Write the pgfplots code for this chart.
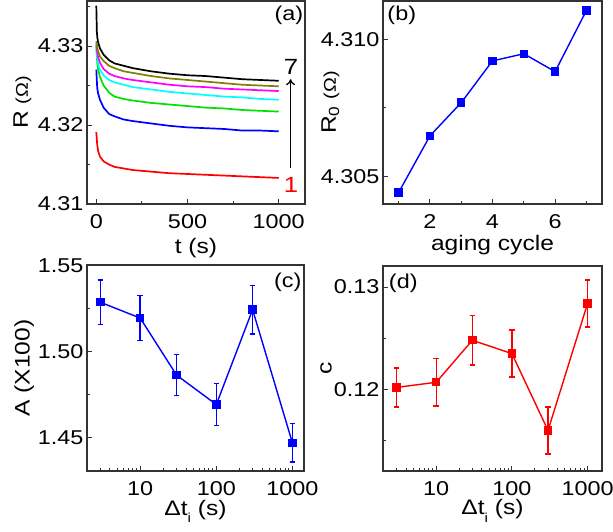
\documentclass[border=0pt]{standalone}
\usepackage{fontspec}
\setmainfont{Liberation Sans}[FakeStretch=1.17]
\usepackage{pgfplots}
\pgfplotsset{compat=1.18}
\usetikzlibrary{arrows.meta}

\definecolor{cOlive}{RGB}{128,128,0}
\definecolor{cGreen}{RGB}{0,225,0}
\definecolor{cCyan}{RGB}{0,255,255}
\definecolor{cMag}{RGB}{255,0,255}

\newcommand{\dti}{Δt\raisebox{-0.7ex}{\fontsize{13}{14}\selectfont i}}

\pgfplotsset{
  panel/.style={
    scale only axis, clip=false,
    axis line style={black!80, line width=1.2pt},
    tick align=inside, xtick pos=bottom, ytick pos=left,
    tick style={black!80, line width=1pt},
    major tick length=5pt, minor tick length=3pt,
    tick label style={font=\fontsize{20}{21}\selectfont},
    every x tick label/.append style={yshift=-7pt},
    label style={font=\fontsize{21}{23}\selectfont},
    ylabel style={anchor=center, rotate=0},
    xlabel style={anchor=base},
  },
  curve/.style={line width=1.7pt},
  pts/.style={line width=1.4pt, mark=square*, mark size=3.5pt, mark options={solid}},
  errs/.style={pts,
    error bars/y dir=both, error bars/y explicit,
    error bars/error bar style={line width=1.4pt},
    error bars/error mark options={rotate=90, mark size=2.8pt, line width=1.4pt}},
}

\begin{document}
\begin{tikzpicture}
\useasboundingbox (0,0) rectangle (613pt,-531pt);

% (a) relaxation curves
\begin{axis}[panel, at={(87pt,-204pt)}, anchor=south west,
  width=218pt, height=203pt,
  xmin=-51, xmax=1144, ymin=4.31, ymax=4.3357,
  xtick={0,500,1000}, xticklabels={0,500,1000}, minor xtick={250,750},
  ytick={4.31,4.32,4.33}, yticklabels={4.31,4.32,4.33}, minor ytick={4.315,4.325,4.335},
  xlabel={t (s)}, xlabel style={at={(axis description cs:0.5,-0.245)}},
  ylabel={R {\fontsize{17}{18}\selectfont(Ω)}}, ylabel style={at={(axis description cs:-0.296,0.5)}},
]
\addplot[curve, red] coordinates {(0,4.3191)(5,4.3175)(10,4.3167)(20,4.3160)(40,4.3154)(70,4.3150)(100,4.3147)(150,4.3145)(200,4.3143)(300,4.3141)(400,4.3139)(500,4.3138)(600,4.3137)(700,4.3136)(800,4.3135)(900,4.3134)(1000,4.3133)};
\addplot[curve, blue] coordinates {(0,4.3270)(5,4.3247)(10,4.3240)(20,4.3232)(40,4.3222)(70,4.3214)(100,4.3211)(150,4.3207)(200,4.3205)(300,4.3202)(400,4.3199)(500,4.3197)(600,4.3196)(700,4.3195)(800,4.3193)(900,4.3193)(1000,4.3192)};
\addplot[curve, cGreen] coordinates {(0,4.3299)(5,4.3279)(10,4.3270)(20,4.3261)(40,4.3250)(70,4.3241)(100,4.3236)(150,4.3233)(200,4.3231)(300,4.3228)(400,4.3226)(500,4.3224)(600,4.3222)(700,4.3221)(800,4.3219)(900,4.3218)(1000,4.3217)};
\addplot[curve, cCyan] coordinates {(0,4.3301)(5,4.3285)(10,4.3278)(20,4.3270)(40,4.3263)(70,4.3257)(100,4.3254)(150,4.3251)(200,4.3248)(300,4.3245)(400,4.3242)(500,4.3240)(600,4.3238)(700,4.3236)(800,4.3235)(900,4.3233)(1000,4.3232)};
\addplot[curve, cMag] coordinates {(0,4.3303)(5,4.3292)(10,4.3286)(20,4.3279)(40,4.3271)(70,4.3265)(100,4.3262)(150,4.3259)(200,4.3257)(300,4.3254)(400,4.3251)(500,4.3249)(600,4.3248)(700,4.3246)(800,4.3245)(900,4.3244)(1000,4.3243)};
\addplot[curve, cOlive] coordinates {(0,4.3306)(5,4.3298)(10,4.3293)(20,4.3287)(40,4.3281)(70,4.3275)(100,4.3272)(150,4.3268)(200,4.3266)(300,4.3262)(400,4.3259)(500,4.3257)(600,4.3255)(700,4.3253)(800,4.3251)(900,4.3250)(1000,4.3249)};
\addplot[curve, black] coordinates {(0,4.3351)(3,4.3318)(6,4.3310)(10,4.3305)(20,4.3297)(40,4.3289)(70,4.3282)(100,4.3278)(150,4.3275)(200,4.3272)(300,4.3268)(400,4.3265)(500,4.3263)(600,4.3262)(700,4.3260)(800,4.3258)(900,4.3257)(1000,4.3256)};
\draw[-{To[length=6pt,width=9pt]}, line width=1.3pt] (axis cs:1065,4.3146) -- (axis cs:1065,4.3258);
\node[font=\fontsize{22}{24}\selectfont] at (axis cs:1068,4.3274) {7};
\node[font=\fontsize{22}{24}\selectfont, red] at (axis cs:1068,4.3124) {1};
\node[font=\fontsize{20}{22}\selectfont] at (axis cs:1056,4.3339) {(a)};
\end{axis}

% (b) R0 vs aging cycle
\begin{axis}[panel, at={(383pt,-204pt)}, anchor=south west,
  width=219pt, height=203pt,
  xmin=0.5, xmax=7.5, ymin=4.3040, ymax=4.31139,
  xtick={2,4,6}, xticklabels={2,4,6}, minor xtick={1,3,5,7},
  ytick={4.305,4.310}, yticklabels={4.305,4.310}, minor ytick={4.3075},
  xlabel={aging cycle}, xlabel style={at={(axis description cs:0.5,-0.228)}},
  ylabel={R\textsubscript{0} {\fontsize{17}{18}\selectfont(Ω)}}, ylabel style={at={(axis description cs:-0.24,0.5)}},
]
\addplot[pts, blue] coordinates {(1,4.30442)(2,4.30648)(3,4.30769)(4,4.30921)(5,4.30947)(6,4.30882)(7,4.31104)};
\node[font=\fontsize{20}{22}\selectfont] at (axis cs:1.10,4.31088) {(b)};
\end{axis}

% (c) A vs delta t
\begin{axis}[panel, xmode=log, at={(87pt,-471pt)}, anchor=south west,
  width=217pt, height=206pt,
  xmin=2, xmax=1420, ymin=1.4304, ymax=1.5504,
  xtick={10,100,1000}, xticklabels={10,100,1000},
  minor xtick={2,3,4,5,6,7,8,9,20,30,40,50,60,70,80,90,200,300,400,500,600,700,800,900},
  ytick={1.45,1.50,1.55}, yticklabels={1.45,1.50,1.55}, minor ytick={1.475,1.525},
  xlabel={\dti{} (s)}, xlabel style={at={(axis description cs:0.5,-0.214)}},
  ylabel={A (X100)}, ylabel style={at={(axis description cs:-0.29,0.5)}},
]
\addplot[errs, blue] table[x=x, y=y, y error=e] {
x y e
3 1.5287 0.0130
10 1.5195 0.0132
30 1.4863 0.0120
100 1.4691 0.0122
300 1.5244 0.0142
1000 1.4468 0.0112
};
\node[font=\fontsize{20}{22}\selectfont] at (axis cs:867,1.5406) {(c)};
\end{axis}

% (d) c vs delta t
\begin{axis}[panel, xmode=log, at={(383pt,-471pt)}, anchor=south west,
  width=219pt, height=205pt,
  xmin=1.98, xmax=1550, ymin=0.11204, ymax=0.13205,
  xtick={10,100,1000}, xticklabels={10,100,1000},
  minor xtick={2,3,4,5,6,7,8,9,20,30,40,50,60,70,80,90,200,300,400,500,600,700,800,900},
  ytick={0.12,0.13}, yticklabels={0.12,0.13}, minor ytick={0.115,0.125},
  xlabel={\dti{} (s)}, xlabel style={at={(axis description cs:0.5,-0.214)}},
  ylabel={c}, ylabel style={at={(axis description cs:-0.26,0.5)}},
]
\addplot[errs, red] table[x=x, y=y, y error=e] {
x y e
3 0.1202 0.0019
10 0.1207 0.0023
30 0.1248 0.0024
100 0.1235 0.0023
300 0.1160 0.0023
1000 0.1284 0.0023
};
\node[font=\fontsize{20}{22}\selectfont] at (axis cs:3.67,0.13036) {(d)};
\end{axis}
\end{tikzpicture}
\end{document}
